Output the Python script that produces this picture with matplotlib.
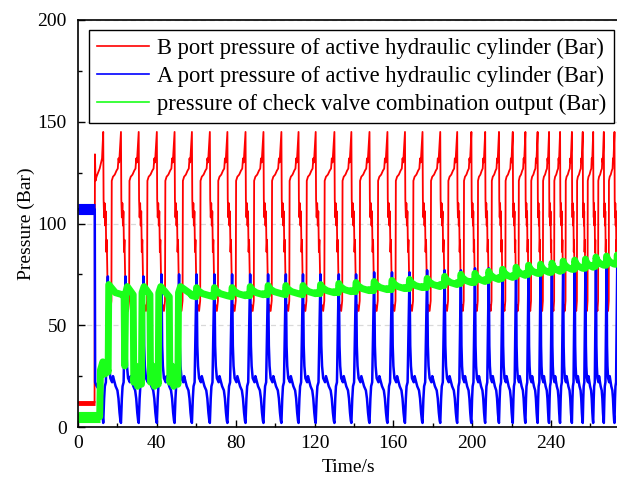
import numpy as np
import matplotlib
matplotlib.use("Agg")
import matplotlib.pyplot as plt
from matplotlib.ticker import MultipleLocator, FixedLocator

plt.rcParams['font.family'] = ['Liberation Serif', 'DejaVu Serif']

# Instants of each red spike / blue dip (s)
dip_times = [12.8, 21.8, 30.8, 40.0, 49.0, 57.8, 66.9, 75.8, 85.0, 94.1,
             103.2, 111.9, 120.6, 130.1, 138.7, 147.9, 157.0, 165.9, 174.8, 183.8,
             192.4, 199.6, 206.6, 213.6, 220.6, 227.0, 233.2, 239.0, 244.6, 250.6,
             256.1, 261.4, 266.8, 272.2, 277.6]

# One cycle of B port pressure (phase from spike to next spike, Bar)
red_phase = [0.00, 0.02, 0.05, 0.08, 0.11, 0.14, 0.17, 0.20, 0.24, 0.27,
             0.33, 0.40, 0.46, 0.48, 0.55, 0.65, 0.75, 0.82, 0.86, 0.90, 0.94, 0.97]
red_shape = [145, 112, 103, 110, 99, 106, 86, 92, 72, 56,
             60, 57, 62, 121, 123, 124, 126, 127, 132, 130, 136, 140]

# One cycle of A port pressure (phase from dip to next dip, Bar); None = peak
blue_phase = [0.00, 0.05, 0.09, 0.15, 0.20, 0.23, 0.26, 0.30, 0.34, 0.40,
              0.50, 0.55, 0.70, 0.80, 0.86, 0.92, 0.97]
blue_shape = [2, 14, 20, 22, 48, 62, None, 40, 30, 24,
              22, 25, 20, 18, 14, 7, 3]
# blue peak height per cycle (Bar)
blue_peak = [74, 74, 74, 75, 75, 75, 75, 75, 75, 75,
             75, 75, 75, 75, 75, 76, 76, 76, 77, 77,
             77, 78, 78, 78, 79, 79, 79, 80, 80, 80,
             80, 81, 81, 81]

# check valve output: start-up section (s, Bar)
green_t0 = [0, 11.0, 11.4, 12.6, 13.6, 14.6, 15.3, 15.6, 19.0, 22.5, 23.4, 23.7,
            24.2, 25.0, 28.0, 28.3, 29.2, 30.2, 31.2, 32.2, 32.5, 33.5, 36.5, 36.8,
            37.8, 38.8, 39.8, 40.7, 41.0, 42.0, 46.3, 46.6, 47.6, 48.6, 49.6, 50.7,
            51.0, 52.0, 57.8]
green_v0 = [5, 5, 28, 32, 26, 30, 27, 70, 66, 65, 64, 30,
            66, 69, 65, 22, 30, 20, 27, 21, 66, 69, 65, 22,
            30, 20, 27, 21, 66, 69, 64, 22, 30, 20, 27, 21,
            66, 69, 65]
# per-cycle sawtooth after start-up
green_phase = [0.00, 0.23, 0.26, 0.34, 0.60, 0.99]
green_shape = [-1.5, -2.0, 2.5, 1.0, -0.5, -1.5]
green_level = [66, 66, 66, 66.5, 67, 67, 67, 67.5, 68, 68.5,
               69, 69.5, 70, 70.5, 71.5, 72.5, 73, 74, 75, 76,
               77, 77.5, 78, 79, 79.5, 80, 81, 81.5, 82]

# start-up (idle) section
red_t0 = [0, 8.4, 8.6, 8.9, 9.4, 11.0, 12.2]
red_v0 = [12, 12, 134, 121, 123, 127, 132]
blue_t0 = [0, 8.5, 8.7, 9.5, 11.0, 12.0]
blue_v0 = [107, 107, 22, 20, 18, 10]

labels = ['B port pressure of active hydraulic cylinder (Bar)',
          'A port pressure of active hydraulic cylinder (Bar)',
          'pressure of check valve combination output (Bar)']

# ---- assemble series
red_t, red_v = list(red_t0), list(red_v0)
blue_t, blue_v = list(blue_t0), list(blue_v0)
for i in range(len(dip_times) - 1):
    t0, t1 = dip_times[i], dip_times[i + 1]
    for p, v in zip(red_phase, red_shape):
        red_t.append(t0 + p * (t1 - t0))
        red_v.append(v)
    for p, v in zip(blue_phase, blue_shape):
        blue_t.append(t0 + p * (t1 - t0))
        blue_v.append(blue_peak[i] if v is None else v)

green_t, green_v = list(green_t0), list(green_v0)
for k, i in enumerate(range(5, len(dip_times) - 1)):
    t0, t1 = dip_times[i], dip_times[i + 1]
    for p, v in zip(green_phase, green_shape):
        green_t.append(t0 + p * (t1 - t0))
        green_v.append(green_level[k] + v)

fig = plt.figure(figsize=(6.17, 4.84), dpi=100)
ax = fig.add_axes([78 / 617, 57 / 484, 542 / 617, 407 / 484])

l1, = ax.plot(red_t, red_v, color='#ff0000', lw=1.3, label=labels[0])
l2, = ax.plot(blue_t, blue_v, color='#0000ff', lw=1.8, label=labels[1])
l3, = ax.plot(green_t, green_v, color='#1aff1a', lw=5, label=labels[2])
# thick noisy idle bands
ax.plot(red_t0[:2], red_v0[:2], color='#ff0000', lw=3.5, solid_capstyle='butt')
ax.plot(blue_t0[:2], blue_v0[:2], color='#0000ff', lw=8, solid_capstyle='butt')
ax.plot(green_t0[:2], green_v0[:2], color='#1aff1a', lw=8, solid_capstyle='butt')

ax.set_xlim(0, 275)
ax.set_ylim(0, 200)
ax.xaxis.set_major_locator(FixedLocator([0, 40, 80, 120, 160, 200, 240]))
ax.xaxis.set_minor_locator(FixedLocator([20, 60, 100, 140, 180, 220, 260]))
ax.yaxis.set_major_locator(MultipleLocator(50))
ax.yaxis.set_minor_locator(MultipleLocator(25))
ax.tick_params(which='both', direction='in', labelsize=14, width=1)
ax.tick_params(which='major', length=5)
ax.tick_params(which='minor', length=3)
ax.tick_params(axis='x', which='major', pad=6)
ax.tick_params(axis='y', which='major', pad=8)
ax.grid(axis='y', which='major', ls=(0, (4, 3)), color='#d9d9d9', lw=0.9)
ax.set_axisbelow(True)
for s in ax.spines.values():
    s.set_linewidth(1.2)

ax.set_xlabel('Time/s', fontsize=14, labelpad=5)
ax.set_ylabel('Pressure (Bar)', fontsize=14, labelpad=2)

leg = ax.legend(handles=[l1, l2, l3], loc='upper right',
                bbox_to_anchor=(614 / 617, 1 - 30 / 484),
                bbox_transform=fig.transFigure, fontsize=16.3,
                frameon=True, fancybox=False, edgecolor='black',
                framealpha=1, borderaxespad=0, handlelength=2.3,
                handletextpad=0.35, labelspacing=0.3, borderpad=0.35)
leg.get_frame().set_linewidth(1.0)
for h in leg.legend_handles:
    h.set_linewidth(1.2)

fig.savefig('out.png', dpi=100)
